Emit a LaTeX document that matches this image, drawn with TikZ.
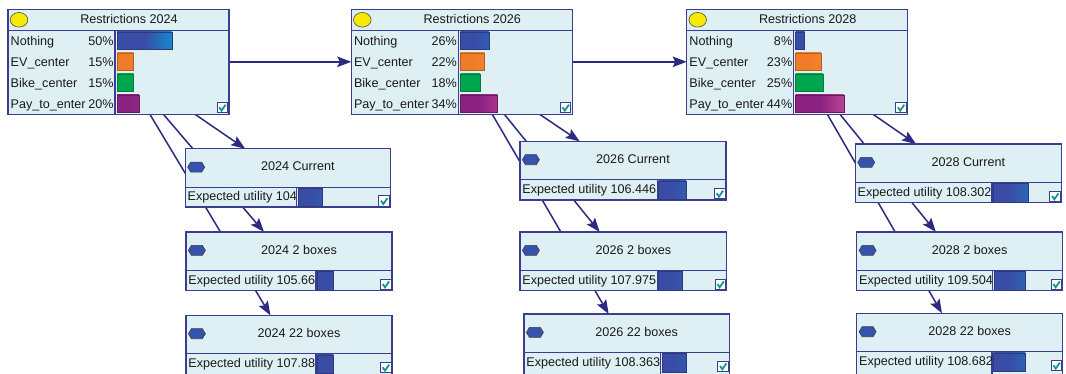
\documentclass[tikz,border=0pt]{standalone}
\usepackage{fontspec}
\setmainfont{Liberation Sans}
\usetikzlibrary{arrows.meta}

\definecolor{boxfill}{HTML}{DFF0F5}
\definecolor{boxline}{HTML}{3C3C90}
\definecolor{edgecol}{HTML}{2B2B80}
\definecolor{nothingc}{HTML}{3A4DA6}
\definecolor{nothingt}{HTML}{0E92D2}
\definecolor{evc}{HTML}{F07C28}
\definecolor{evt}{HTML}{FAA838}
\definecolor{bikec}{HTML}{00A550}
\definecolor{payc}{HTML}{8C2280}
\definecolor{payt}{HTML}{C8509F}
\definecolor{checkc}{HTML}{12968F}
\definecolor{hexc}{HTML}{3453AE}
\definecolor{yell}{HTML}{F5EA00}

\pgfdeclarelayer{bg}
\pgfdeclarelayer{edges}
\pgfsetlayers{bg,edges,main}

\tikzset{
  every node/.style={font=\fontsize{12.6}{14}\selectfont, text=black!90,
    inner sep=0pt, outer sep=0pt},
  restrbox/.style={draw=boxline, fill=boxfill, line width=1.5pt,
    minimum width=221pt, minimum height=105pt},
  utilbox/.style={draw=boxline, fill=boxfill, line width=1.5pt,
    minimum height=58.5pt},
  divider/.style={draw=boxline, line width=1.3pt},
  link/.style={draw=edgecol, line width=1.5pt,
    -{Stealth[length=14pt,width=10.5pt,inset=2.5pt]}},
}

% horizontal bar: x, y, length, height, base colour, tip colour
\newcommand\barfill[6]{%
  \pgfmathtruncatemacro\tipmix{min(100,max(0,(#3-18)*2.4))}%
  \shade[left color=#5, right color=#6!\tipmix!#5, middle color=#5]
    ({#1},{#2}) rectangle ++({#3},{#4});
  \draw[#5!75!black, line width=0.5pt] ({#1},{#2}) rectangle ++({#3},{#4});
}

% small ticked box, given its top-left corner
\newcommand\tickbox[2]{%
  \draw[boxline, fill=white, line width=0.9pt] ({#1},{#2}) rectangle ++(10.5,10.5);
  \draw[checkc, line width=1.8pt]
    ({#1+2.2},{#2+5}) -- ({#1+4.5},{#2+8.3}) -- ({#1+8.6},{#2+2.4});
}

% chance node with its belief table: name, corner, title, four percentages
\newcommand\restrnode[7]{%
  \node[restrbox, anchor=north west] (#1) at (#2) {};
  \begin{scope}[shift={(#1.north west)}]
    \draw[divider] (0,21) -- (221,21);
    \draw[divider] (107,21) -- (107,105);
    \draw[fill=yell, draw=black!70, line width=0.6pt]
      (11,10.5) ellipse [x radius=8.8pt, y radius=7.3pt];
    \node[anchor=base] (#1-title) at (121,14.3) {#3};
    \node[anchor=base west] (#1-l1) at (2.7,36) {Nothing};
    \node[anchor=base west] (#1-l2) at (2.7,57) {EV\_center};
    \node[anchor=base west] (#1-l3) at (2.7,78) {Bike\_center};
    \node[anchor=base west] (#1-l4) at (2.7,99) {Pay\_to\_enter};
    \node[anchor=base east] (#1-p1) at (105.5,36) {#4\%};
    \node[anchor=base east] (#1-p2) at (105.5,57) {#5\%};
    \node[anchor=base east] (#1-p3) at (105.5,78) {#6\%};
    \node[anchor=base east] (#1-p4) at (105.5,99) {#7\%};
    \barfill{109}{22.5}{1.1*#4}{17}{nothingc}{nothingt}
    \barfill{109}{43.5}{1.1*#5}{17}{evc}{evt}
    \barfill{109}{64.5}{1.1*#6}{17}{bikec}{bikec}
    \barfill{109}{85.5}{1.1*#7}{17}{payc}{payt}
    \tickbox{209}{93}
  \end{scope}
}

% decision node with expected utility: [extra box options], name, corner,
% width, title, value, column position, bar end
\newcommand\utilnode[8][]{%
  \node[utilbox, minimum width=#4pt, anchor=north west, #1] (#2) at (#3) {};
  \begin{scope}[shift={(#2.north west)}]
    \draw[divider] (0,38.5) -- (#4,38.5);
    \draw[divider] (#7,38.5) -- (#7,38.5 |- #2.south);
    \draw[fill=hexc, draw=black!75, line width=0.6pt]
      (2.4,18.4) -- (5.4,13.4) -- (16.4,13.4) -- (19.4,18.4)
      -- (16.4,23.4) -- (5.4,23.4) -- cycle;
    \node[anchor=base] (#2-title) at ({(20+#4)/2},22) {#5};
    \node[anchor=base west] (#2-value) at (2.4,52) {Expected utility #6};
    \barfill{#7+1.3}{39.6}{#8-#7-1.3}{18.2}{nothingc}{nothingt}
    \tickbox{#4-11.5}{47}
  \end{scope}
}

\begin{document}
\begin{tikzpicture}[x=1pt, y=-1pt]
  \useasboundingbox (0,0) rectangle (1066,373);
  \begin{pgfonlayer}{bg}
    \fill[white] (0,0) rectangle (1066,373);
  \end{pgfonlayer}

  \restrnode{r24}{8,9.3}{Restrictions 2024}{50}{15}{15}{20}
  \restrnode{r26}{351.3,9.3}{Restrictions 2026}{26}{22}{18}{34}
  \restrnode{r28}{686.7,9.3}{Restrictions 2028}{8}{23}{25}{44}

  \utilnode{cur24}{185.3,148.7}{205}{2024 Current}{104}{111.4}{136.7}
  \utilnode{two24}{186,232}{206}{2024 2 boxes}{105.66}{130}{147.3}
  \utilnode[minimum height=62pt]{ttwo24}{186,315.3}{206}{2024 22 boxes}{107.88}{130}{147.3}

  \utilnode{cur26}{520,141.3}{206}{2026 Current}{106.446}{137.3}{166}
  \utilnode{two26}{520,232}{206.7}{2026 2 boxes}{107.975}{137.3}{162.7}
  \utilnode[minimum height=62pt]{ttwo26}{524,314}{205.3}{2026 22 boxes}{108.363}{136.7}{162}

  \utilnode{cur28}{855.3,144}{206}{2028 Current}{108.302}{136.7}{173.4}
  \utilnode{two28}{856.7,232}{206}{2028 2 boxes}{109.504}{136}{168.6}
  \utilnode[minimum height=62pt]{ttwo28}{856.7,313.3}{206}{2028 22 boxes}{108.682}{135.3}{168.6}

  \begin{pgfonlayer}{edges}
    \draw[link] (r24) -- (r26);
    \draw[link] (r26) -- (r28);
    \foreach \yr in {24,26,28} {
      \draw[link] (r\yr) -- (cur\yr);
      \draw[link] (r\yr) -- (two\yr);
      \draw[link] (r\yr) -- (ttwo\yr);
    }
  \end{pgfonlayer}
\end{tikzpicture}
\end{document}
